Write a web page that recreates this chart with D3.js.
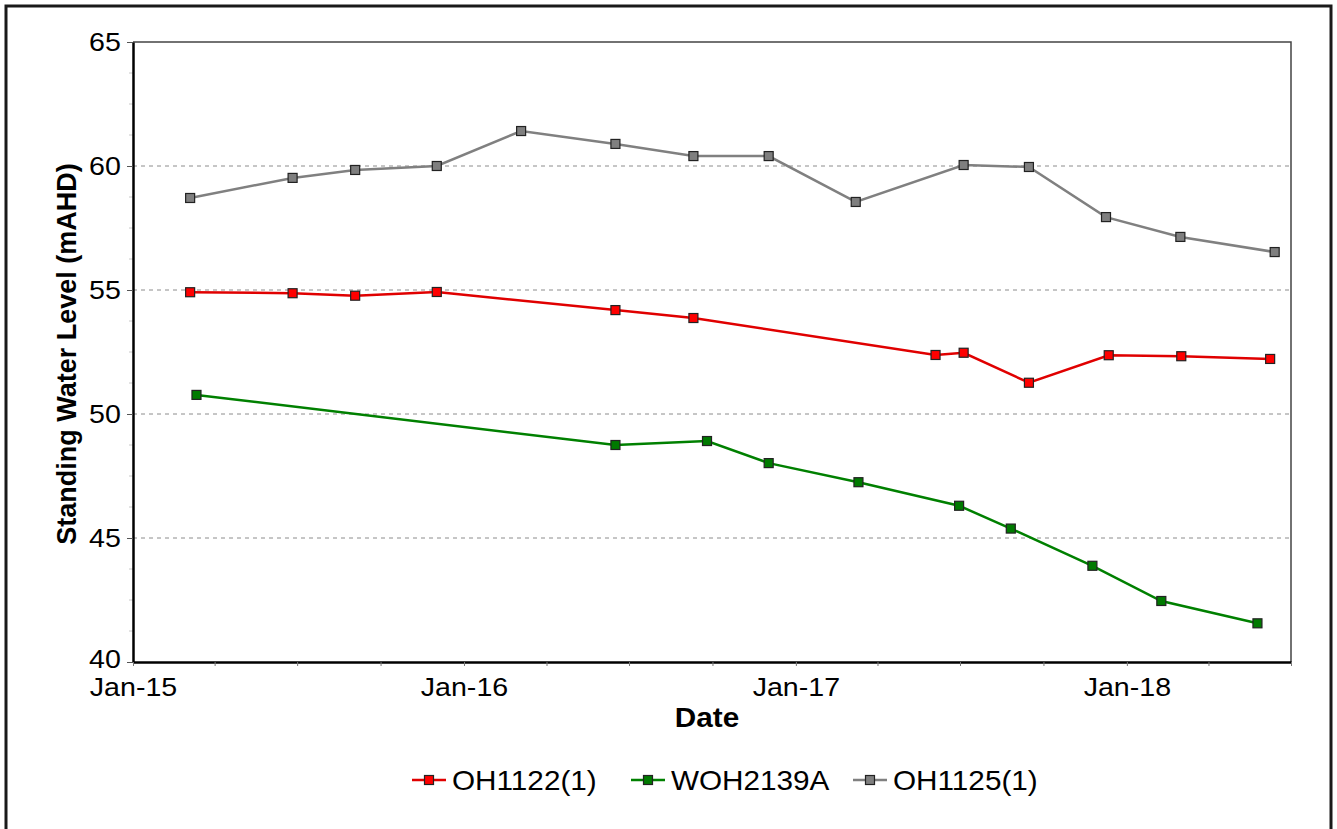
<!DOCTYPE html>
<meta charset="utf-8">
<script src="https://cdn.jsdelivr.net/npm/d3@7"></script>
<style>
  body { margin: 0; background: #fff; }
  svg text { font-family: Arial, "Liberation Sans", sans-serif; fill: #000; }
</style>
<body>
<script>

var width = 1337
var height = 829
var margin = {left: 133, top: 42, right: 46, bottom: 167}

// series: [date, mAHD]
var seriesNames = ["OH1122(1)", "WOH2139A", "OH1125(1)"]
var seriesColors = ["#e00000", "#008000", "#808080"]
var markerFills = ["#ff0000", "#007a00", "#7f7f7f"]

var oh1122 = [
  ["2015-03-05", 54.91], ["2015-06-26", 54.87], ["2015-09-03", 54.77], ["2015-12-02", 54.92],
  ["2016-06-16", 54.19], ["2016-09-10", 53.87], ["2017-06-04", 52.38], ["2017-07-05", 52.47],
  ["2017-09-15", 51.26], ["2017-12-12", 52.37], ["2018-03-02", 52.33], ["2018-06-08", 52.22]
]
var woh2139a = [
  ["2015-03-12", 50.77], ["2016-06-16", 48.75], ["2016-09-25", 48.91], ["2016-12-02", 48.02],
  ["2017-03-11", 47.25], ["2017-06-30", 46.30], ["2017-08-26", 45.38], ["2017-11-24", 43.88],
  ["2018-02-08", 42.46], ["2018-05-25", 41.56]
]
var oh1125 = [
  ["2015-03-05", 58.71], ["2015-06-26", 59.52], ["2015-09-03", 59.84], ["2015-12-02", 60.00],
  ["2016-03-04", 61.41], ["2016-06-16", 60.89], ["2016-09-10", 60.40], ["2016-12-02", 60.40],
  ["2017-03-08", 58.55], ["2017-07-05", 60.04], ["2017-09-15", 59.96], ["2017-12-09", 57.94],
  ["2018-03-01", 57.14], ["2018-06-13", 56.53]
]
var seriesData = [oh1122, woh2139a, oh1125]

var xDomain = ["2015-01-01", "2018-07-01"]
var yDomain = [40, 65]
var yTicks = [40, 45, 50, 55, 60, 65]
var gridValues = [45, 50, 55, 60]

var parse = d3.timeParse("%Y-%m-%d")
var stretch = "scale(1.1,1)"

var x = d3.scaleTime().domain(xDomain.map(parse)).range([margin.left, width - margin.right])
var y = d3.scaleLinear().domain(yDomain).range([height - margin.bottom, margin.top])

var svg = d3.select("body").append("svg")
            .attr("width", width)
            .attr("height", height)

// outer frame
svg.append("rect")
   .attr("x", 6).attr("y", 6)
   .attr("width", 1325).attr("height", 840)
   .attr("fill", "none").attr("stroke", "#1a1a1a").attr("stroke-width", 3)

// gridlines
svg.append("g").selectAll("line")
   .data(gridValues).join("line")
   .attr("x1", x.range()[0]).attr("x2", x.range()[1])
   .attr("y1", d => y(d)).attr("y2", d => y(d))
   .attr("stroke", "#8c8c8c").attr("stroke-width", 1).attr("stroke-dasharray", "4,4")

// top and right frame of plot
svg.append("path")
   .attr("d", "M" + x.range()[0] + "," + y(65) + "H" + x.range()[1] + "V" + y(40))
   .attr("fill", "none").attr("stroke", "#444").attr("stroke-width", 1.5)

// minor y ticks
var yMinor = d3.range(40, 65.01, 1.25).filter(v => v % 5 !== 0)
svg.append("g").selectAll("line")
   .data(yMinor).join("line")
   .attr("x1", margin.left - 4).attr("x2", margin.left)
   .attr("y1", d => y(d)).attr("y2", d => y(d))
   .attr("stroke", "#c8c8c8").attr("stroke-width", 1)

var yAxis = svg.append("g")
    .attr("transform", "translate(" + margin.left + ",0)")
    .call(d3.axisLeft(y).tickValues(yTicks).tickSize(6).tickPadding(5).tickSizeOuter(0))
yAxis.select(".domain").attr("stroke", "#000").attr("stroke-width", 2.5)
yAxis.selectAll(".tick line").attr("stroke", "#555")
yAxis.selectAll("text").attr("font-size", 26).attr("transform", stretch)
yAxis.selectAll(".tick").filter(d => d === 40).select("text").attr("dy", "0.2em")

var xAxis = svg.append("g")
    .attr("transform", "translate(0," + y(40) + ")")
    .call(d3.axisBottom(x).ticks(d3.timeMonth.every(3)).tickSize(4).tickPadding(12).tickSizeOuter(0)
            .tickFormat(d => d.getMonth() === 0 ? d3.timeFormat("%b-%y")(d) : ""))
xAxis.select(".domain").attr("stroke", "#000").attr("stroke-width", 2.5)
xAxis.selectAll(".tick line").attr("stroke", "#777")
xAxis.selectAll("text").attr("font-size", 26).attr("transform", stretch)

// axis titles
svg.append("text")
   .attr("transform", "translate(76,354) rotate(-90)")
   .attr("text-anchor", "middle")
   .attr("font-size", 27).attr("font-weight", "bold")
   .text("Standing Water Level (mAHD)")

svg.append("text")
   .attr("transform", "translate(707,727) " + stretch)
   .attr("text-anchor", "middle")
   .attr("font-size", 27).attr("font-weight", "bold")
   .text("Date")

// lines and markers
var line = d3.line().x(d => x(parse(d[0]))).y(d => y(d[1]))

seriesData.forEach(function(data, i) {
  var g = svg.append("g")
  g.append("path")
   .attr("d", line(data))
   .attr("fill", "none").attr("stroke", seriesColors[i]).attr("stroke-width", 2.5)
  g.selectAll("rect").data(data).join("rect")
   .attr("x", d => x(parse(d[0])) - 4.5).attr("y", d => y(d[1]) - 4.5)
   .attr("width", 9).attr("height", 9)
   .attr("fill", markerFills[i]).attr("stroke", "#222").attr("stroke-width", 1.2)
})

// legend
var legendX = [412, 631, 853]
var legend = svg.append("g")
legend.selectAll("g").data(seriesNames).join("g")
  .attr("transform", (d, i) => "translate(" + legendX[i] + ",780)")
  .each(function(d, i) {
    var g = d3.select(this)
    g.append("line").attr("x1", 0).attr("x2", 34).attr("y1", 0).attr("y2", 0)
     .attr("stroke", seriesColors[i]).attr("stroke-width", 2.5)
    g.append("rect").attr("x", 12.5).attr("y", -4.5).attr("width", 9).attr("height", 9)
     .attr("fill", markerFills[i]).attr("stroke", "#222").attr("stroke-width", 1.2)
    g.append("text").attr("transform", "translate(40,10) " + stretch)
     .attr("font-size", 27).text(d)
  })

</script>
</body>
